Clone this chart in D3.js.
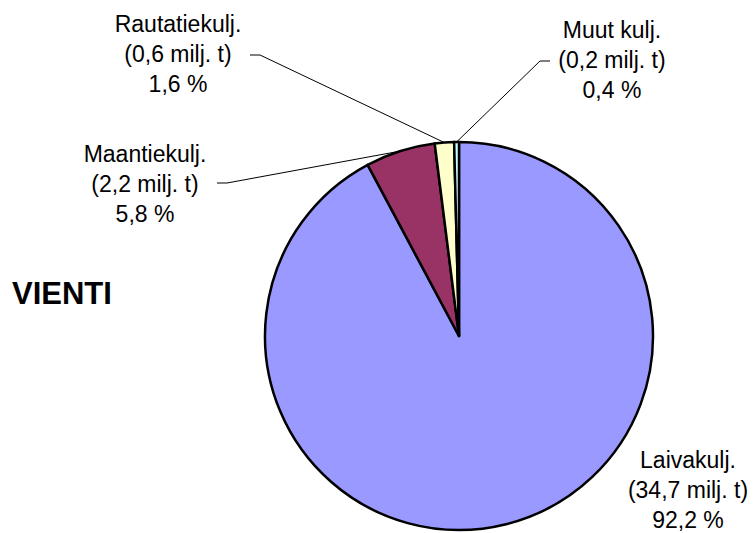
<!DOCTYPE html>
<meta charset="utf-8">
<script src="https://cdn.jsdelivr.net/npm/d3@7"></script>
<style>
    body { margin: 0; background: #fff; }
    svg text { font-family: "Liberation Sans", Arial, sans-serif; fill: #000; }
</style>
<div id="chart"></div>
<script>
    // data
    var categories = ["Laivakulj.", "Maantiekulj.", "Rautatiekulj.", "Muut kulj."];
    var tonnes = ["34,7", "2,2", "0,6", "0,2"];   // milj. t
    var shares = [92.2, 5.8, 1.6, 0.4];          // %
    var colors = ["#9999FF", "#993366", "#FFFFCC", "#CCFFFF"];

    // label layout, relative to pie centre (x of text centre, y of first baseline)
    var labelAt = [[229, 132], [-314, -174], [-281, -304], [153, -298]];
    // leader elbow (null = no leader), relative to pie centre
    var elbowAt = [null, [-232, -153], [-199, -281], [81, -275]];

    var W = 755, H = 533, cx = 459, cy = 336, R = 194;

    var svg = d3.select("#chart").append("svg").attr("width", W).attr("height", H);

    var pie = d3.pie().sort(null).value(function (d) { return d; });
    var arcs = pie(shares);
    var arc = d3.arc().innerRadius(0).outerRadius(R);

    var g = svg.append("g").attr("transform", "translate(" + cx + "," + cy + ")");

    g.selectAll("path.slice").data(arcs).enter().append("path")
        .attr("class", "slice")
        .attr("d", arc)
        .style("fill", function (d, i) { return colors[i]; })
        .style("stroke", "#000")
        .style("stroke-width", 2.5)
        .style("stroke-linejoin", "round");

    // leader lines from arc midpoint
    arcs.forEach(function (d, i) {
        if (!elbowAt[i]) return;
        var a = (d.startAngle + d.endAngle) / 2;
        var p0 = [R * Math.sin(a), -R * Math.cos(a)];
        var e = elbowAt[i];
        var dir = e[0] < 0 ? -1 : 1;
        var p2 = [e[0] + dir * 10, e[1]];
        g.append("polyline")
            .attr("points", [p0, e, p2].map(function (p) { return p.join(","); }).join(" "))
            .style("fill", "none").style("stroke", "#000").style("stroke-width", 1);
    });

    // labels
    categories.forEach(function (c, i) {
        var t = g.append("text")
            .attr("text-anchor", "middle")
            .style("font-size", "23px");
        var lines = [c, "(" + tonnes[i] + " milj. t)", d3.format(".1f")(shares[i]).replace(".", ",") + " %"];
        lines.forEach(function (s, k) {
            t.append("tspan").attr("x", labelAt[i][0]).attr("y", labelAt[i][1] + k * 30).text(s);
        });
    });

    svg.append("text")
        .attr("x", 12).attr("y", 304)
        .style("font-size", "31px").style("font-weight", "bold")
        .text("VIENTI");
</script>
